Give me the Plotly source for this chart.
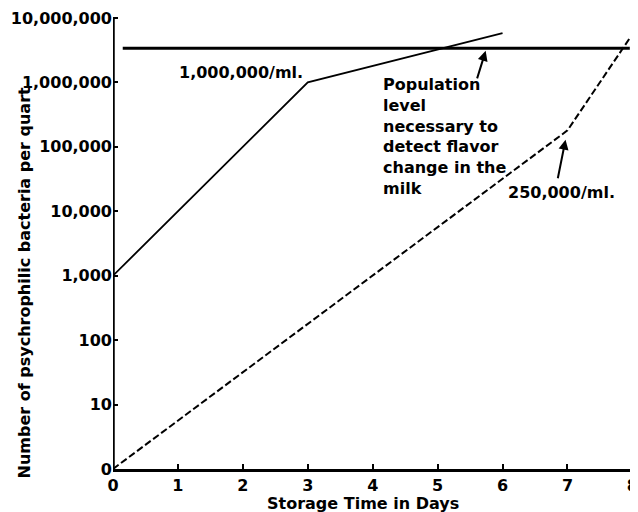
import plotly.graph_objects as go

# --- data ---
days_fast = [0, 3, 6]
count_fast = [1000, 1000000, 5800000]

days_slow = [0, 7, 8.1]
count_slow = [1, 180000, 7900000]

days_thresh = [0.15, 7.96]
count_thresh = [3400000, 3400000]

x_ticks = [0, 1, 2, 3, 4, 5, 6, 7, 8]
y_ticks = [1, 10, 100, 1000, 10000, 100000, 1000000, 10000000]
y_tick_text = ["0", "10", "100", "1,000", "10,000", "100,000", "1,000,000", "10,000,000"]

FONT = "DejaVu Sans"
FS = 16
BOLD = dict(family=FONT, size=FS, color="black", weight="bold")

fig = go.Figure()
fig.add_trace(go.Scatter(x=days_thresh, y=count_thresh, mode="lines",
                         line=dict(color="black", width=3), showlegend=False))
fig.add_trace(go.Scatter(x=days_fast, y=count_fast, mode="lines",
                         line=dict(color="black", width=1.8), showlegend=False))
fig.add_trace(go.Scatter(x=days_slow, y=count_slow, mode="lines",
                         line=dict(color="black", width=2, dash="7px,3px"), showlegend=False))

fig.update_layout(
    width=630, height=504,
    margin=dict(l=105, r=0, t=0, b=43),
    paper_bgcolor="white", plot_bgcolor="white",
    font=BOLD,
    xaxis=dict(range=[0, 8.04], tickvals=x_ticks, ticktext=[str(v) for v in x_ticks],
               showgrid=False, zeroline=False, showline=True, linecolor="black", linewidth=3,
               ticks="inside", ticklen=5, tickwidth=2, tickcolor="black", tickfont=BOLD,
               ticklabeloverflow="allow"),
    yaxis=dict(type="log", range=[0, 7.155], tickvals=y_ticks, ticktext=y_tick_text,
               showgrid=False, zeroline=False, showline=False,
               ticks="inside", ticklen=5, tickwidth=2, tickcolor="black", tickfont=BOLD),
    shapes=[dict(type="line", xref="x", yref="y", x0=0, x1=0, y0=1, y1=10000000,
                 line=dict(color="black", width=3.5))],
)

fig.add_annotation(x=0.98, y=6.16, xref="x", yref="y", text="1,000,000/ml.",
                   showarrow=False, xanchor="left", yanchor="middle", font=BOLD)
fig.add_annotation(x=4.13, y=5.16, xref="x", yref="y",
                   text="Population<br>level<br>necessary to<br>detect flavor<br>change in the<br>milk",
                   showarrow=False, xanchor="left", yanchor="middle", align="left", font=BOLD)
fig.add_annotation(x=6.05, y=4.29, xref="x", yref="y", text="250,000/ml.",
                   showarrow=False, xanchor="left", yanchor="middle", font=BOLD)
# arrows
fig.add_annotation(x=5.74, y=6.49, xref="x", yref="y", text="", showarrow=True,
                   ax=-9, ay=29, arrowhead=2, arrowsize=1, arrowwidth=2, arrowcolor="black")
fig.add_annotation(x=6.97, y=5.11, xref="x", yref="y", text="", showarrow=True,
                   ax=-8, ay=40, arrowhead=2, arrowsize=1, arrowwidth=2, arrowcolor="black")
# axis titles
fig.add_annotation(x=-0.1695, y=0.4035, xref="paper", yref="paper",
                   text="Number of psychrophilic bacteria per quart", textangle=-90,
                   showarrow=False, xanchor="center", yanchor="middle", font=BOLD)
fig.add_annotation(x=0.6667, y=-0.0738, xref="paper", yref="paper",
                   text="Storage Time in Days", showarrow=False,
                   xanchor="right", yanchor="middle", font=BOLD)

fig.write_html("out.html")
